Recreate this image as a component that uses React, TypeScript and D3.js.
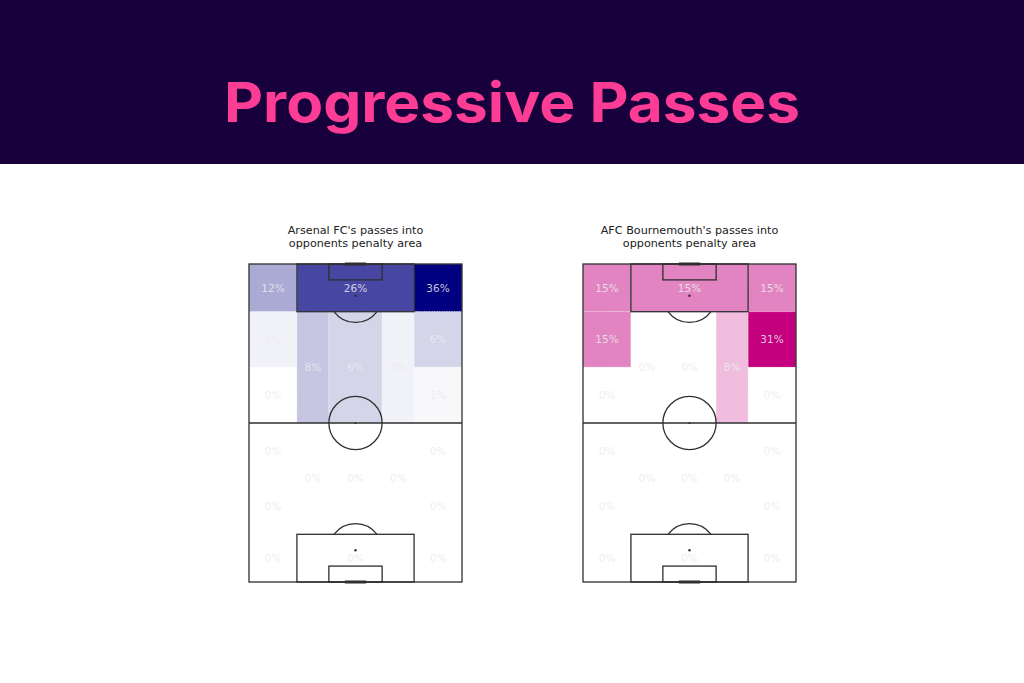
import * as d3 from 'd3'

// zones of the positional grid (pitch units, statsbomb 80 x 120, y = 120 is the attacking goal)
const zoneX0 = [18, 0, 62, 0, 62, 0, 62, 18, 30, 50, 18, 30, 50, 0, 62, 0, 62, 0, 62, 18]
const zoneX1 = [62, 18, 80, 18, 80, 18, 80, 30, 50, 62, 30, 50, 62, 18, 80, 18, 80, 18, 80, 62]
const zoneY0 = [102, 102, 102, 81, 81, 60, 60, 60, 60, 60, 18, 18, 18, 39, 39, 18, 18, 0, 0, 0]
const zoneY1 = [120, 120, 120, 102, 102, 81, 81, 102, 102, 102, 60, 60, 60, 60, 60, 39, 39, 18, 18, 18]

const arsenalValues = [26, 12, 36, 2, 6, 0, 1, 8, 6, 2, 0, 0, 0, 0, 0, 0, 0, 0, 0, 0]
const bournemouthValues = [15, 15, 15, 15, 31, 0, 0, 0, 0, 8, 0, 0, 0, 0, 0, 0, 0, 0, 0, 0]

const teams = ["Arsenal FC's", "AFC Bournemouth's"]
const teamColors = ['#000080', '#c4007e']

const W = 1024
const H = 683
const pitchW = 213
const pitchTop = 264
const pitchBottom = 582
const pitchLefts = [249, 583]
const line = '#2e2e2e'

function Pitch({ left, values, color, team }: { left: number; values: number[]; color: string; team: string }) {
  const x = d3.scaleLinear().domain([0, 80]).range([left, left + pitchW])
  const y = d3.scaleLinear().domain([0, 120]).range([pitchBottom, pitchTop])
  const k = (x(10) - x(0))
  const fill = d3.scaleLinear<string>().domain([0, d3.max(values) as number]).range(['#ffffff', color]).interpolate(d3.interpolateRgb)
  const cx = x(40)

  const arc = (spot: number, dir: number) => {
    // part of the penalty arc outside the box
    const dy = 6
    const ang = Math.acos(dy / 10)
    const sy = y(spot)
    const p0x = cx - Math.sin(ang) * k
    const p1x = cx + Math.sin(ang) * k
    const py = sy + dir * dy * (k / 10)
    return `M${p0x},${py} A${k},${k} 0 0 ${dir > 0 ? 0 : 1} ${p1x},${py}`
  }

  return (
    <g>
      <text x={cx} y={234} textAnchor="middle" fontFamily="DejaVu Sans" fontSize={11.2} fill="#222">{team} passes into</text>
      <text x={cx} y={247} textAnchor="middle" fontFamily="DejaVu Sans" fontSize={11.2} fill="#222">opponents penalty area</text>
      {values.map((v, i) => (
        <rect key={'z' + i} x={x(zoneX0[i])} y={y(zoneY1[i])} width={x(zoneX1[i]) - x(zoneX0[i])} height={y(zoneY0[i]) - y(zoneY1[i])}
          fill={fill(v)} stroke="#ffffff" strokeOpacity={0.6} strokeWidth={0.8} strokeDasharray="1 1.5" />
      ))}
      <g fill="none" stroke={line} strokeWidth={1.3}>
        <rect x={x(0)} y={y(120)} width={x(80) - x(0)} height={y(0) - y(120)} />
        <line x1={x(0)} x2={x(80)} y1={y(60)} y2={y(60)} />
        <circle cx={cx} cy={y(60)} r={k} />
        <rect x={x(18)} y={y(120)} width={x(62) - x(18)} height={y(102) - y(120)} />
        <rect x={x(30)} y={y(120)} width={x(50) - x(30)} height={y(114) - y(120)} />
        <rect x={x(18)} y={y(18)} width={x(62) - x(18)} height={y(0) - y(18)} />
        <rect x={x(30)} y={y(6)} width={x(50) - x(30)} height={y(0) - y(6)} />
        <path d={arc(108, 1)} />
        <path d={arc(12, -1)} />
        <line x1={x(36)} x2={x(44)} y1={y(120)} y2={y(120)} strokeWidth={3} />
        <line x1={x(36)} x2={x(44)} y1={y(0)} y2={y(0)} strokeWidth={3} />
      </g>
      <g fill={line}>
        <circle cx={cx} cy={y(60)} r={1} />
        <circle cx={cx} cy={y(108)} r={1.2} />
        <circle cx={cx} cy={y(12)} r={1.2} />
      </g>
      {values.map((v, i) => (
        <text key={'t' + i} x={x((zoneX0[i] + zoneX1[i]) / 2)} y={y((zoneY0[i] + zoneY1[i]) / 2)} dy="0.35em"
          textAnchor="middle" fontFamily="DejaVu Sans" fontSize={10.5} fill="#ebebeb" fillOpacity={0.85}>{v}%</text>
      ))}
    </g>
  )
}

export default function App() {
  const data = [arsenalValues, bournemouthValues]
  return (
    <div>
      <style>{`body{margin:0}`}</style>
      <svg width={W} height={H} style={{ display: 'block' }}>
        <rect width={W} height={H} fill="#ffffff" />
        <rect width={W} height={164} fill="#17003c" />
        <text x={W / 2} y={122} textAnchor="middle" fontFamily="Inter" fontWeight={700} fontSize={55}
          textLength={576} lengthAdjust="spacingAndGlyphs" fill="#fd3d95">Progressive Passes</text>
        {data.map((vals, i) => (
          <Pitch key={i} left={pitchLefts[i]} values={vals} color={teamColors[i]} team={teams[i]} />
        ))}
      </svg>
    </div>
  )
}
